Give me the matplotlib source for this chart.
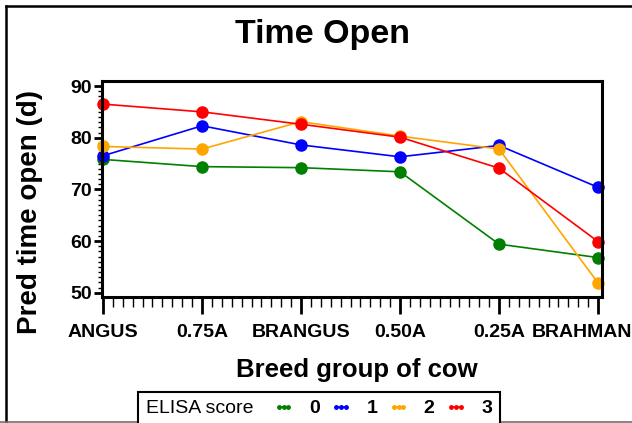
import matplotlib
matplotlib.use("Agg")
import matplotlib.pyplot as plt
import matplotlib.transforms as mtransforms
from matplotlib.lines import Line2D
from matplotlib.offsetbox import HPacker
from matplotlib.ticker import MultipleLocator, FixedLocator

plt.rcParams['font.family'] = ['Liberation Sans', 'DejaVu Sans']

# values
breeds = ["ANGUS", "0.75A", "BRANGUS", "0.50A", "0.25A", "BRAHMAN"]
score0 = [75.8, 74.4, 74.2, 73.4, 59.4, 56.8]
score1 = [76.5, 82.3, 78.6, 76.3, 78.5, 70.4]
score2 = [78.3, 77.8, 83.1, 80.3, 77.8, 51.9]
score3 = [86.5, 85.0, 82.6, 80.1, 74.1, 59.9]
score_names = ["0", "1", "2", "3"]
colors = ["green", "blue", "orange", "red"]

W, H = 632, 423
fig = plt.figure(figsize=(W / 100, H / 100), dpi=100)

# axes box in pixels: left 101.7, right 602, top 81, bottom 296.5
ax = fig.add_axes([101.7 / W, 1 - 296.5 / H, (602 - 101.7) / W, (296.5 - 81) / H])

xpos = list(range(len(breeds)))
for vals, c in zip([score0, score1, score2, score3], colors):
    ax.plot(xpos, vals, color=c, lw=1.2, marker='o', markersize=8, clip_on=False)

ax.set_xlim(-0.013, 5.04)
ax.set_ylim(49.27, 90.97)
ax.xaxis.set_major_locator(FixedLocator(xpos))
ax.set_xticks(xpos)
ax.set_xticklabels(breeds)
ax.xaxis.set_minor_locator(MultipleLocator(0.1))
ax.yaxis.set_major_locator(MultipleLocator(10))
ax.yaxis.set_minor_locator(MultipleLocator(1))

for s in ax.spines.values():
    s.set_linewidth(2.2)

ax.tick_params(axis='x', which='major', length=12, width=2, pad=8, labelsize=14)
ax.tick_params(axis='x', which='minor', length=7, width=1)
ax.tick_params(axis='y', which='major', length=6, width=2, pad=1, labelsize=14)
ax.tick_params(axis='y', which='minor', length=3, width=1)
for lab in ax.get_xticklabels() + ax.get_yticklabels():
    lab.set_fontweight('bold')

# last label sits left of its tick in the reference
last = ax.get_xticklabels()[-1]
last.set_transform(last.get_transform() + mtransforms.ScaledTranslation(-0.16, 0, fig.dpi_scale_trans))

fig.text(322 / W, 1 - 35 / H, "Time Open", ha='center', va='center',
         fontsize=24.5, fontweight='bold')
fig.text(357 / W, 1 - 377 / H, "Breed group of cow", ha='center', va='baseline',
         fontsize=18.5, fontweight='bold')
fig.text(30.5 / W, 1 - 212.5 / H, "Pred time open (d)", ha='center', va='center',
         rotation=90, fontsize=20, fontweight='bold')

# legend with the title on the left
handles = [Line2D([], [], color=c, lw=1.2, marker='o', markersize=2.5) for c in colors]
leg = fig.legend(handles, score_names, loc='upper center',
                 bbox_to_anchor=(319 / W, 1 - 392 / H), ncol=4, title="ELISA score",
                 frameon=True, fancybox=False, edgecolor='black', framealpha=1,
                 fontsize=14, title_fontsize=14, handlelength=1.1, handletextpad=0.75,
                 columnspacing=0.55, borderpad=0.4, numpoints=3, borderaxespad=0)
leg.get_frame().set_linewidth(1.5)
for t in leg.get_texts():
    t.set_fontweight('bold')
old = leg._legend_box
hp = HPacker(pad=old.pad, sep=14, align='center',
             children=[leg._legend_title_box, leg._legend_handle_box])
hp.set_figure(fig)
hp.axes = None
leg._legend_box = hp
hp.set_offset(leg._findoffset)

# outer frame: left and top dark, bottom grey, no right side
fig.add_artist(Line2D([6 / W, 6 / W], [0, 1 - 6 / H], transform=fig.transFigure,
                      color='black', lw=1.8))
fig.add_artist(Line2D([6 / W, 1], [1 - 6 / H, 1 - 6 / H], transform=fig.transFigure,
                      color='black', lw=1.8))
fig.add_artist(Line2D([0, 1], [1 - 422 / H, 1 - 422 / H], transform=fig.transFigure,
                      color='#707070', lw=1.2))

fig.savefig("out.png", dpi=100)
